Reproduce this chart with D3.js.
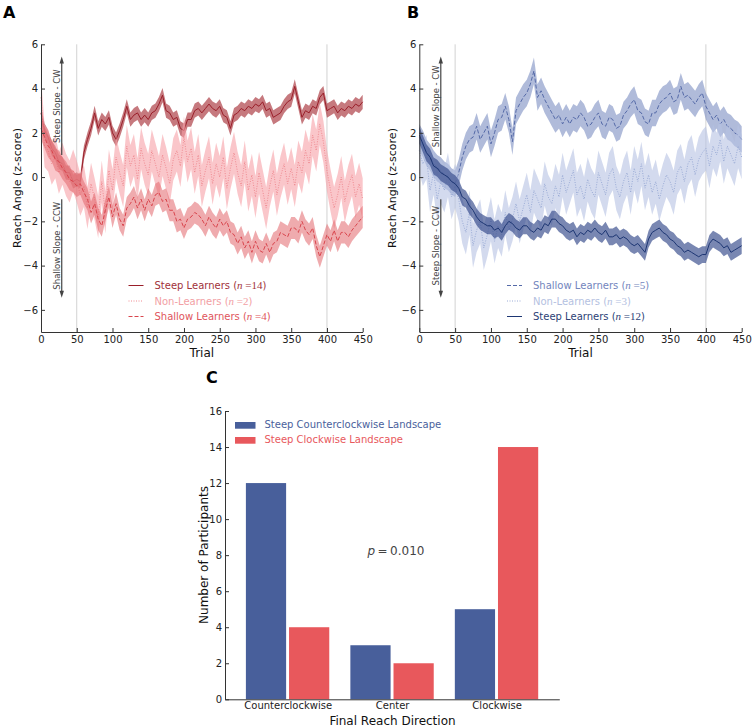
<!DOCTYPE html>
<html><head><meta charset="utf-8">
<script src="https://cdn.jsdelivr.net/npm/d3@7"></script>
<style>body{margin:0;background:#fff}svg{display:block}text{font-family:"DejaVu Sans",sans-serif}</style>
</head><body><svg id="c" width="754" height="727"></svg>
<script>
// ---------------- DATA ----------------
const trials = d3.range(0, 451, 5);
const xTicksAB = [0, 50, 100, 150, 200, 250, 300, 350, 400, 450];
const yTicksAB = [-6, -4, -2, 0, 2, 4, 6];
const markerTrials = [50, 400];

// Panel A (read every 5 trials)
const steepA = [
  2.9, 2.1, 1.8, 1.3, 1.1, 0.7, 0.6, 0.2, 0.2, -0.2,
  -0.1, -0.2, 1.1, 1.7, 2.2, 2.9, 2.2, 2.6, 2.4, 2.7,
  2.0, 1.7, 2.1, 2.6, 3.2, 2.6, 2.8, 2.9, 2.6, 2.8,
  2.6, 2.9, 3.0, 3.3, 3.7, 3.0, 2.9, 2.6, 2.7, 2.2,
  2.1, 2.6, 2.6, 3.0, 3.1, 2.9, 3.1, 3.3, 3.1, 3.0,
  3.2, 2.8, 2.7, 2.2, 2.8, 2.9, 3.1, 3.0, 3.2, 3.1,
  3.3, 3.2, 3.4, 3.0, 3.1, 2.7, 2.8, 2.9, 3.2, 3.4,
  3.5, 4.1, 3.4, 2.7, 3.0, 2.9, 3.2, 3.1, 3.6, 3.8,
  3.0, 3.1, 3.2, 2.9, 3.1, 3.0, 3.2, 3.1, 3.3, 3.2,
  3.4];
const nonA = [
  3.6, 1.4, 1.2, 0.6, 0.9, 0.2, 0.6, 0.1, -0.2, 0.3,
  -0.2, -0.8, -0.4, -1.4, -0.3, -1.0, -1.8, -0.2, -1.6, 0.3,
  -0.6, 0.9, 0.2, -0.4, 1.4, 0.5, 1.0, -0.1, 1.3, 0.6,
  0.1, 1.2, 0.6, 0.0, 1.0, 0.4, -0.3, 0.8, 1.2, 0.5,
  1.8, 0.7, 1.3, 0.2, 1.0, -0.4, 0.3, 0.9, -0.3, 0.6,
  0.0, 0.9, -0.5, 0.4, 1.1, 0.2, -0.4, 0.7, -0.6, 0.1,
  -0.9, 0.2, -0.6, -1.4, -0.4, 0.3, -0.8, 0.0, 0.6, -0.3,
  0.4, -0.4, 0.7, 0.2, 1.2, 0.6, 1.9, 1.2, 2.4, 1.6,
  0.3, -0.6, -1.4, -0.8, 0.0, -1.1, -0.4, 0.1, -0.9, -0.3,
  -1.0];
const shallowA = [
  2.2, 1.8, 1.4, 1.2, 0.8, 0.7, 0.4, 0.2, -0.1, -0.2,
  -0.4, -0.3, -0.7, -1.0, -1.6, -1.2, -1.9, -2.2, -1.5, -0.9,
  -1.8, -1.2, -1.9, -2.2, -1.4, -1.2, -0.9, -1.4, -1.0, -1.5,
  -1.0, -1.3, -0.8, -0.7, -1.1, -1.0, -1.5, -1.5, -2.0, -1.9,
  -2.3, -1.9, -1.8, -1.6, -1.7, -1.9, -2.2, -1.8, -2.1, -2.3,
  -1.9, -2.2, -2.0, -2.5, -2.6, -3.0, -2.7, -3.2, -2.9, -3.4,
  -2.9, -3.3, -3.4, -3.0, -3.4, -3.0, -2.9, -2.5, -2.6, -2.7,
  -2.3, -2.3, -2.5, -2.0, -2.4, -2.6, -2.3, -3.1, -3.6, -3.1,
  -2.6, -2.9, -2.4, -2.9, -2.5, -2.5, -2.7, -2.4, -2.2, -2.0,
  -1.8];
const semA = [0.32, 0.95, 0.5];        // band half-widths: steep, non, shallow
const namesA = ["Steep Learners", "Non-Learners", "Shallow Learners"];
const countsA = [14, 2, 4];
const arrowTextA = ["Steep Slope - CW", "Shallow Slope - CCW"];

// Panel B (read every 5 trials)
const shallowB = [
  1.8, 1.5, 1.1, 0.9, 0.6, 0.4, 0.3, 0.1, 0.0, -0.2,
  -0.3, 0.2, 0.9, 1.4, 1.7, 1.8, 2.3, 1.7, 2.0, 2.3,
  1.5, 2.0, 2.6, 2.7, 3.2, 2.6, 1.6, 3.0, 3.3, 3.6,
  3.8, 4.2, 4.8, 3.6, 3.9, 3.5, 3.2, 2.9, 2.6, 2.8,
  2.4, 2.7, 2.4, 2.7, 2.6, 2.9, 2.7, 2.3, 2.4, 2.7,
  2.9, 2.4, 2.3, 2.7, 2.6, 2.2, 2.3, 2.8, 3.0, 3.3,
  3.5, 3.0, 2.9, 2.5, 2.4, 2.9, 2.9, 3.3, 3.5, 3.6,
  3.8, 3.4, 3.5, 4.1, 3.6, 3.7, 3.5, 3.3, 3.6, 3.8,
  3.2, 2.9, 2.6, 2.8, 2.4, 2.6, 2.3, 2.2, 2.0, 1.9,
  1.7];
const nonB = [
  1.2, 0.6, 0.9, -0.6, 0.2, -1.0, -0.2, -0.6, 0.1, -0.9,
  -0.4, -1.0, -2.0, -2.5, -1.6, -3.1, -2.4, -2.0, -3.2, -2.6,
  -1.9, -2.9, -2.2, -2.6, -1.6, -2.4, -1.9, -1.2, -2.0, -1.4,
  -0.8, -1.6, -0.6, -1.0, -1.4, -0.3, -0.9, -1.2, -0.4, -0.9,
  0.1, -0.7, -0.2, 0.3, -0.8, -0.4, -1.0, -0.1, -0.6, -0.9,
  0.2, -0.3, -0.8, 0.1, 0.4, -0.5, -0.9, -0.2, 0.2, -0.7,
  0.4, -0.2, 0.6, -0.5, 0.1, -0.7, -0.2, -1.0, -0.4, 0.1,
  -0.2, -0.7, 0.2, 0.5, -0.2, 0.6, 0.9, 0.1, 0.8, 1.1,
  1.3, 0.5, 1.4, 1.0, 1.7, 0.7, 1.4, 1.0, 0.6, 1.4,
  0.9];
const steepB = [
  1.9, 1.5, 1.1, 0.9, 0.5, 0.4, 0.2, 0.1, 0.0, -0.2,
  -0.3, -0.5, -0.9, -1.0, -1.3, -1.5, -1.8, -2.0, -2.1, -2.2,
  -2.2, -2.4, -2.3, -2.5, -2.2, -2.0, -2.1, -2.3, -2.4, -2.2,
  -2.2, -2.4, -2.5, -2.3, -2.4, -2.1, -2.2, -1.9, -1.9, -2.1,
  -2.2, -2.4, -2.5, -2.4, -2.7, -2.5, -2.6, -2.4, -2.5, -2.3,
  -2.5, -2.6, -2.4, -2.7, -2.7, -2.6, -2.8, -2.7, -2.8, -3.0,
  -3.1, -3.0, -3.2, -3.4, -2.8, -2.5, -2.4, -2.3, -2.5, -2.6,
  -2.8, -2.9, -3.1, -3.2, -3.4, -3.3, -3.4, -3.5, -3.6, -3.5,
  -3.5, -3.0, -2.8, -2.9, -3.0, -3.2, -3.1, -3.4, -3.3, -3.2,
  -3.1];
const semB = [0.6, 1.0, 0.38];         // shallow, non, steep
const namesB = ["Shallow Learners", "Non-Learners", "Steep Learners"];
const countsB = [5, 3, 12];
const arrowTextB = ["Shallow Slope - CW", "Steep Slope - CCW"];

// Panel C
const categories = ["Counterclockwise", "Center", "Clockwise"];
const ccwLandscape = [12, 3, 5];
const cwLandscape = [4, 2, 14];
const barLegend = ["Steep Counterclockwise Landscape", "Steep Clockwise Landscape"];
const yTicksC = [0, 2, 4, 6, 8, 10, 12, 14, 16];
const pValue = "0.010";

// ---------------- DRAW ----------------
const svg = d3.select("#c");
const AXC = "#333";

function styleAxis(g) {
  g.select(".domain").attr("stroke", AXC).attr("stroke-width", 1);
  g.selectAll(".tick line").attr("stroke", AXC);
  g.selectAll(".tick text").attr("fill", "#222").attr("font-size", 10).attr("font-family", "DejaVu Sans");
  g.attr("font-family", "DejaVu Sans");
}

function drawPanel(o) {
  const g = svg.append("g");
  const x = d3.scaleLinear([0, 450], [o.x0, o.x1]);
  const y = d3.scaleLinear([-7, 6], [332, 44.3]);

  g.selectAll(".vl").data(markerTrials).join("line")
    .attr("x1", d => x(d)).attr("x2", d => x(d))
    .attr("y1", y(6)).attr("y2", y(-7))
    .attr("stroke", "#d2d2d2").attr("stroke-width", 1);

  o.series.forEach(s => {
    const area = d3.area().x((d, j) => x(trials[j]))
      .y0(d => y(d - s.sem)).y1(d => y(d + s.sem));
    g.append("path").datum(s.values).attr("d", area)
      .attr("fill", s.fill).attr("fill-opacity", s.op);
    const line = d3.line().x((d, j) => x(trials[j])).y(d => y(d));
    g.append("path").datum(s.values).attr("d", line)
      .attr("fill", "none").attr("stroke", s.color).attr("stroke-width", 1)
      .attr("stroke-dasharray", s.dash);
  });

  // arrows
  const ax = x(o.arrowTrial);
  const tipT = y(5.45), tipB = y(-5.45);
  const a = g.append("g").attr("stroke", "#444").attr("fill", "#444");
  a.append("line").attr("x1", ax).attr("x2", ax).attr("y1", y(1.0)).attr("y2", tipT + 5).attr("stroke-width", 1.2);
  a.append("line").attr("x1", ax).attr("x2", ax).attr("y1", y(-1.0)).attr("y2", tipB - 5).attr("stroke-width", 1.2);
  a.append("path").attr("stroke", "none").attr("d", `M${ax},${tipT}L${ax - 2.2},${tipT + 7}L${ax + 2.2},${tipT + 7}Z`);
  a.append("path").attr("stroke", "none").attr("d", `M${ax},${tipB}L${ax - 2.2},${tipB - 7}L${ax + 2.2},${tipB - 7}Z`);
  [[o.arrowText[0], 3.2], [o.arrowText[1], -3.1]].forEach(([t, v]) => {
    g.append("text").attr("transform", `translate(${ax - 1.6},${y(v)}) rotate(-90)`)
      .attr("text-anchor", "middle").attr("font-size", 8.5).attr("fill", "#444").text(t);
  });

  // axes
  const ya = g.append("g").attr("transform", `translate(${o.x0},0)`)
    .call(d3.axisLeft(y).tickValues(yTicksAB).tickSizeInner(-4).tickSizeOuter(0).tickPadding(3));
  styleAxis(ya);
  const xa = g.append("g").attr("transform", `translate(0,${y(-7)})`)
    .call(d3.axisBottom(x).tickValues(xTicksAB).tickSizeInner(-4).tickSizeOuter(0).tickPadding(4));
  styleAxis(xa);

  g.append("text").attr("transform", `translate(${o.ylabX},188) rotate(-90)`)
    .attr("text-anchor", "middle").attr("font-size", 11).attr("fill", "#111").text("Reach Angle (z-score)");
  g.append("text").attr("x", (o.x0 + o.x1) / 2).attr("y", 357)
    .attr("text-anchor", "middle").attr("font-size", 12).attr("fill", "#111").text("Trial");

  // legend
  o.series.forEach((s, i) => {
    const by = 289 + i * 15.5;
    g.append("line").attr("x1", o.legX).attr("x2", o.legX + 15).attr("y1", by - 3.5).attr("y2", by - 3.5)
      .attr("stroke", s.color).attr("stroke-width", 1).attr("stroke-dasharray", s.dash);
    const t = g.append("text").attr("x", o.legX + 26).attr("y", by).attr("font-size", 10).attr("fill", s.text);
    t.append("tspan").text(s.name + " (");
    t.append("tspan").attr("font-family", "Liberation Serif").attr("font-style", "italic").attr("font-size", 11).text("n");
    t.append("tspan").attr("font-family", "Liberation Serif").attr("font-size", 11).text(" =" + s.n);
    t.append("tspan").text(")");
  });

  svg.append("text").attr("x", o.labX).attr("y", 18.3).attr("font-size", 16).attr("font-weight", "bold")
    .attr("fill", "#000").text(o.label);
}

drawPanel({
  label: "A", labX: 3, x0: 41, x1: 362.7, ylabX: 20.5, legX: 128.5, arrowTrial: 29,
  arrowText: arrowTextA,
  series: [
    { name: namesA[0], n: countsA[0], values: steepA, sem: semA[0], color: "#9a1f2a", fill: "#a3262f", op: 0.62, dash: null, text: "#a1323a" },
    { name: namesA[1], n: countsA[1], values: nonA, sem: semA[1], color: "#f08a91", fill: "#f7a0a6", op: 0.6, dash: "1,1.5", text: "#f2a0a4" },
    { name: namesA[2], n: countsA[2], values: shallowA, sem: semA[2], color: "#d9454d", fill: "#e2666c", op: 0.55, dash: "4,2", text: "#e0555c" }
  ]
});

drawPanel({
  label: "B", labX: 407, x0: 419.3, x1: 741.7, ylabX: 396, legX: 507, arrowTrial: 30,
  arrowText: arrowTextB,
  series: [
    { name: namesB[0], n: countsB[0], values: shallowB, sem: semB[0], color: "#556aa8", fill: "#7b8dc2", op: 0.6, dash: "4,2", text: "#7385bd" },
    { name: namesB[1], n: countsB[1], values: nonB, sem: semB[1], color: "#9aabd6", fill: "#b5c2e3", op: 0.6, dash: "1,1.5", text: "#b4c1e1" },
    { name: namesB[2], n: countsB[2], values: steepB, sem: semB[2], color: "#1d3673", fill: "#34498a", op: 0.66, dash: null, text: "#2c3f76" }
  ]
});

// ---------- Panel C ----------
(function () {
  const g = svg.append("g");
  const x = d3.scaleLinear([0, 3.2], [225, 559.3]);
  const y = d3.scaleLinear([0, 16], [699.3, 411]);
  const BLUE = "#485f9b", RED = "#e8585c";

  g.selectAll(".b1").data(ccwLandscape).join("rect")
    .attr("x", (d, i) => x(i + 0.2)).attr("width", x(0.385) - x(0))
    .attr("y", d => y(d)).attr("height", d => y(0) - y(d)).attr("fill", BLUE);
  g.selectAll(".b2").data(cwLandscape).join("rect")
    .attr("x", (d, i) => x(i + 0.613)).attr("width", x(0.385) - x(0))
    .attr("y", d => y(d)).attr("height", d => y(0) - y(d)).attr("fill", RED);

  const ya = g.append("g").attr("transform", "translate(225,0)")
    .call(d3.axisLeft(y).tickValues(yTicksC).tickSizeInner(-4).tickSizeOuter(0).tickPadding(3).tickFormat(d3.format("d")));
  styleAxis(ya);
  const xa = g.append("g").attr("transform", `translate(0,${y(0)})`)
    .call(d3.axisBottom(x).tickValues([0.6, 1.6, 2.6]).tickSizeInner(0).tickSizeOuter(0).tickPadding(3)
      .tickFormat((d, i) => categories[i]));
  styleAxis(xa);

  g.append("text").attr("transform", "translate(208,555) rotate(-90)").attr("text-anchor", "middle")
    .attr("font-size", 12).attr("fill", "#111").text("Number of Participants");
  g.append("text").attr("x", 392.5).attr("y", 724.5).attr("text-anchor", "middle")
    .attr("font-size", 12).attr("fill", "#111").text("Final Reach Direction");

  [[BLUE, "#4a5f9c", 0], [RED, "#e8585c", 1]].forEach(([c, tc, i]) => {
    const by = 428 + i * 15;
    g.append("rect").attr("x", 235).attr("y", by - 6).attr("width", 20.5).attr("height", 6.7).attr("fill", c);
    g.append("text").attr("x", 264.5).attr("y", by).attr("font-size", 10).attr("fill", tc).text(barLegend[i]);
  });

  const pt = g.append("text").attr("x", 396).attr("y", 555).attr("text-anchor", "middle")
    .attr("font-family", "Liberation Serif").attr("font-size", 12).attr("fill", "#444");
  pt.append("tspan").attr("font-style", "italic").text("p");
  pt.append("tspan").text("\u2009=\u2009" + pValue);

  svg.append("text").attr("x", 206).attr("y", 383.3).attr("font-size", 16).attr("font-weight", "bold")
    .attr("fill", "#000").text("C");
})();
</script>
</body></html>
